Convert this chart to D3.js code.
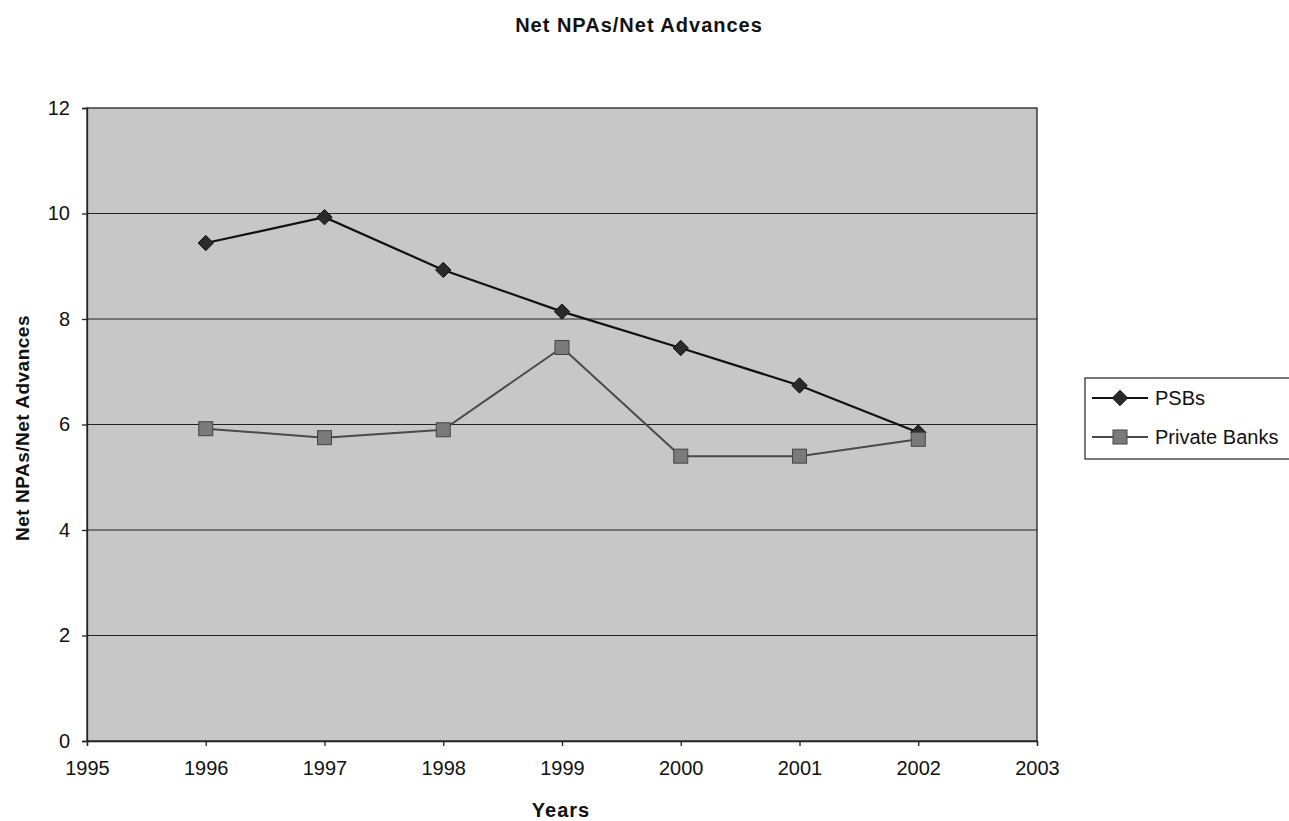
<!DOCTYPE html>
<html>
<head>
<meta charset="utf-8">
<script src="https://cdn.jsdelivr.net/npm/d3@7"></script>
<style>
  body { margin: 0; background: #fff; }
  text { font-family: "Liberation Sans", Arial, sans-serif; fill: #111; }
</style>
</head>
<body>
<div class="graph"></div>
<script>
const years = [1996, 1997, 1998, 1999, 2000, 2001, 2002]
const psbs = [9.44, 9.93, 8.93, 8.14, 7.45, 6.74, 5.85]
const privateBanks = [5.92, 5.75, 5.9, 7.46, 5.4, 5.4, 5.72]
const seriesNames = ["PSBs", "Private Banks"]
const yTicks = [0, 2, 4, 6, 8, 10, 12]
const xTicks = [1995, 1996, 1997, 1998, 1999, 2000, 2001, 2002, 2003]

const width = 1289
const height = 821
const margin = ({top: 108, right: 252, bottom: 80, left: 87})

const x = d3.scaleLinear()
    .domain([1995, 2003])
    .range([margin.left, width - margin.right])
const y = d3.scaleLinear()
    .domain([0, 12])
    .range([height - margin.bottom, margin.top])

const svg = d3.select(".graph").append("svg")
    .attr("width", width)
    .attr("height", height)

// plot area
svg.append("rect")
    .attr("x", x(1995)).attr("y", y(12))
    .attr("width", x(2003) - x(1995)).attr("height", y(0) - y(12))
    .attr("fill", "#c7c7c7")
    .attr("stroke", "#222").attr("stroke-width", 1.3)

// gridlines
svg.append("g").selectAll("line")
    .data(yTicks.filter(d => d > 0 && d < 12))
    .join("line")
    .attr("x1", x(1995)).attr("x2", x(2003))
    .attr("y1", d => y(d)).attr("y2", d => y(d))
    .attr("stroke", "#222").attr("stroke-width", 1)

const yAxis = g => g
    .attr("transform", `translate(${margin.left},0)`)
    .call(d3.axisLeft(y).tickValues(yTicks).tickSize(5).tickPadding(12))
const xAxis = g => g
    .attr("transform", `translate(0,${height - margin.bottom})`)
    .call(d3.axisBottom(x).tickValues(xTicks).tickFormat(d3.format("d")).tickSize(5).tickPadding(15))

svg.append("g").call(yAxis)
svg.append("g").call(xAxis)
svg.selectAll(".tick text").style("font-size", "20px").style("font-family", "Liberation Sans, Arial, sans-serif").attr("fill", "#111")
svg.selectAll(".domain, .tick line").attr("stroke", "#222").attr("stroke-width", 1.3)

const psbData = years.map((yr, i) => ({year: yr, value: psbs[i]}))
const privData = years.map((yr, i) => ({year: yr, value: privateBanks[i]}))

const line = d3.line()
    .x(d => x(d.year))
    .y(d => y(d.value))

svg.append("path").datum(privData)
    .attr("fill", "none").attr("stroke", "#4a4a4a").attr("stroke-width", 2)
    .attr("d", line)
svg.append("path").datum(psbData)
    .attr("fill", "none").attr("stroke", "#111").attr("stroke-width", 2.2)
    .attr("d", line)

const diamond = d3.symbol().type(d3.symbolDiamond2).size(150)

svg.append("g").selectAll("path")
    .data(psbData)
    .join("path")
    .attr("transform", d => `translate(${x(d.year)},${y(d.value)})`)
    .attr("d", diamond)
    .attr("fill", "#2a2a2a").attr("stroke", "#111").attr("stroke-width", 1)

svg.append("g").selectAll("rect")
    .data(privData)
    .join("rect")
    .attr("x", d => x(d.year) - 7).attr("y", d => y(d.value) - 7)
    .attr("width", 14).attr("height", 14)
    .attr("fill", "#7a7a7a").attr("stroke", "#444").attr("stroke-width", 1)

// titles
svg.append("text")
    .attr("x", 639).attr("y", 32)
    .attr("text-anchor", "middle")
    .style("font-size", "20px").style("font-weight", "bold").style("letter-spacing", "1px")
    .text("Net NPAs/Net Advances")
svg.append("text")
    .attr("x", 561).attr("y", 817)
    .attr("text-anchor", "middle")
    .style("font-size", "20px").style("font-weight", "bold").style("letter-spacing", "1px")
    .text("Years")
svg.append("text")
    .attr("transform", `translate(29,428) rotate(-90)`)
    .attr("text-anchor", "middle")
    .style("font-size", "19px").style("font-weight", "bold").style("letter-spacing", "0.5px")
    .text("Net NPAs/Net Advances")

// legend
const legend = svg.append("g").attr("transform", "translate(1085,378)")
legend.append("rect")
    .attr("width", 230).attr("height", 81)
    .attr("fill", "#fff").attr("stroke", "#222").attr("stroke-width", 1.2)
const items = legend.selectAll("g.item")
    .data(seriesNames)
    .join("g")
    .attr("transform", (d, i) => `translate(0,${20 + i * 39})`)
items.append("line")
    .attr("x1", 7).attr("x2", 63)
    .attr("stroke", (d, i) => i === 0 ? "#111" : "#4a4a4a").attr("stroke-width", 2)
items.filter((d, i) => i === 0).append("path")
    .attr("transform", "translate(35,0)")
    .attr("d", diamond)
    .attr("fill", "#2a2a2a").attr("stroke", "#111")
items.filter((d, i) => i === 1).append("rect")
    .attr("x", 28).attr("y", -7).attr("width", 14).attr("height", 14)
    .attr("fill", "#7a7a7a").attr("stroke", "#444")
items.append("text")
    .attr("x", 70).attr("y", 7)
    .style("font-size", "20px")
    .text(d => d)
</script>
</body>
</html>
